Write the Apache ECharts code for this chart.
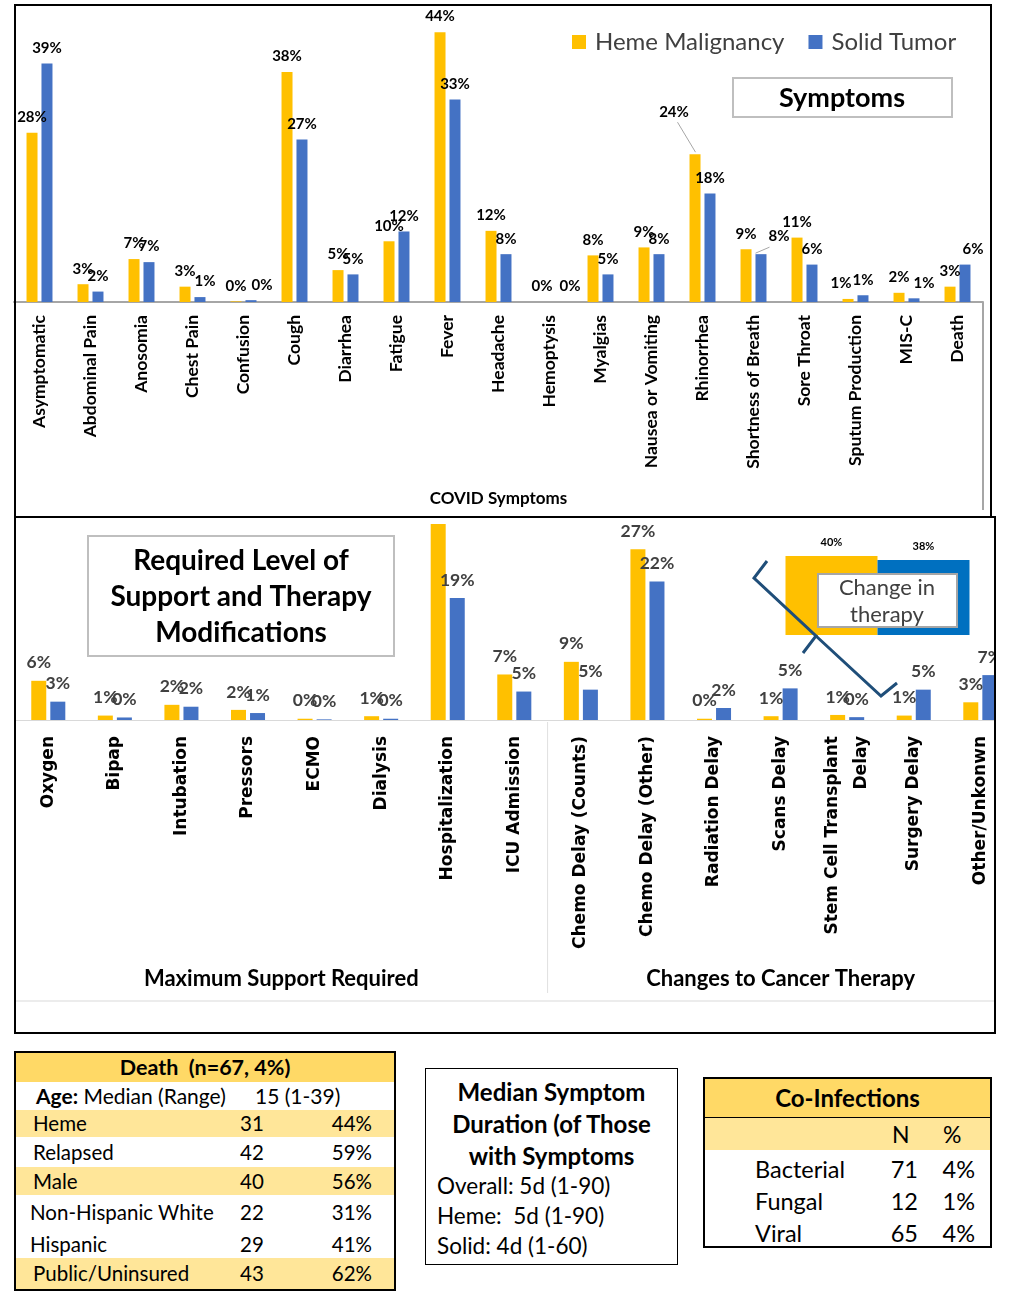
<!DOCTYPE html>
<html><head><meta charset="utf-8">
<script src="https://cdn.jsdelivr.net/npm/echarts/dist/echarts.min.js"></script>
<style>
body{margin:0;background:#fff;width:1012px;height:1309px;position:relative;overflow:hidden;font-family:Lato,sans-serif;color:#000;}
.abs{position:absolute;}
.frame{position:absolute;border:2px solid #000;box-sizing:border-box;pointer-events:none;z-index:5;}
.tbl{position:absolute;border:2px solid #000;box-sizing:border-box;background:#fff;}
.row{position:relative;width:100%;}
.row span{position:absolute;top:0;white-space:pre;}
.hdr{background:#FFD966;font-weight:bold;text-align:center;}
.band{background:#FFE699;}
</style></head><body>
<div id="topChart" class="abs" style="left:0;top:0;width:1012px;height:517px;"></div>
<div class="frame" style="left:14px;top:4px;width:978px;height:514px;"></div>
<div class="abs" style="left:0;top:516px;width:996px;height:518px;overflow:hidden;">
  <div id="midChart" style="position:absolute;left:0;top:0;width:1040px;height:518px;"></div>
</div>
<div class="frame" style="left:14px;top:516px;width:982px;height:518px;"></div>

<div id="deathTbl" class="tbl" style="left:14px;top:1051px;width:382px;height:240px;"></div>
<div id="medianBox" class="abs" style="left:425px;top:1068px;width:253px;height:197px;border:1px solid #000;box-sizing:border-box;"></div>
<div id="coTbl" class="tbl" style="left:703px;top:1077px;width:289px;height:171px;"></div>

<script>
// ---------- data ----------
const symptoms = ['Asymptomatic','Abdominal Pain','Anosomia','Chest Pain','Confusion','Cough','Diarrhea','Fatigue','Fever','Headache','Hemoptysis','Myalgias','Nausea or Vomiting','Rhinorrhea','Shortness of Breath','Sore Throat','Sputum Production','MIS-C','Death'];
const symptomHeme  = [27.6, 2.9, 7.0, 2.5, 0.1, 37.5, 5.2, 9.9, 44, 11.6, 0, 7.6, 8.9, 24.1, 8.6, 10.5, 0.5, 1.5, 2.5];
const symptomSolid = [38.9, 1.7, 6.5, 0.8, 0.3, 26.5, 4.5, 11.5, 33, 7.8, 0, 4.5, 7.8, 17.7, 7.8, 6.1, 1.1, 0.6, 6.1];

const supportCats = ['Oxygen','Bipap','Intubation','Pressors','ECMO','Dialysis','Hospitalization','ICU Admission','Chemo Delay (Counts)','Chemo Delay (Other)','Radiation Delay','Scans Delay','Stem Cell Transplant\nDelay','Surgery Delay','Other/Unkonwn'];
const supportHeme  = [6.2, 0.7, 2.4, 1.6, 0.2, 0.6, 34, 7.2, 9.2, 27, 0.2, 0.6, 0.8, 0.7, 2.8];
const supportSolid = [2.9, 0.4, 2.1, 1.1, 0.1, 0.2, 19.3, 4.5, 4.8, 21.9, 1.9, 5.0, 0.45, 4.8, 7.1];
const groupNames = ['Maximum Support Required','Changes to Cancer Therapy'];
const groupRanges = [[0,7],[8,14]];

const changeCats = ['Change in therapy'];
const changeHeme = [40];
const changeSolid = [38];

const seriesNames = ['Heme Malignancy','Solid Tumor'];

const deathTitle = 'Death  (n=67, 4%)';
const deathAge = ['Age:', ' Median (Range)', '15 (1-39)'];
const deathRows = ['Heme','Relapsed','Male','Non-Hispanic White','Hispanic','Public/Uninsured'];
const deathN = [31, 42, 40, 22, 29, 43];
const deathPct = ['44%','59%','56%','31%','41%','62%'];

const medianTitle = ['Median Symptom','Duration (of Those','with Symptoms'];
const medianLines = ['Overall: 5d (1-90)','Heme:  5d (1-90)','Solid: 4d (1-60)'];

const coTitle = 'Co-Infections';
const coRows = ['Bacterial','Fungal','Viral'];
const coN = [71, 12, 65];
const coPct = ['4%','1%','4%'];

// ---------- colours ----------
const YEL = '#FFC000', BLU = '#4472C4';
const pct = p => Math.round(p.value) + '%';

// ---------- top chart ----------
const topChart = echarts.init(document.getElementById('topChart'));
const topLabel = {show:true, position:'top', distance:8, formatter:pct, fontFamily:'Lato', fontWeight:'bold', fontSize:15, color:'#000'};
const specialTop = {heme:{13:[-21,-27], 16:[-7,0]}, solid:{3:[5,0], 4:[11,0], 10:[13,0], 14:[18,-3], 17:[10,0], 18:[8,0]}};
topChart.setOption({
  animation:false,
  grid:{left:14, right:29, top:26, bottom:215, outerBoundsMode:'none'},
  legend:{data:seriesNames, left:567, top:25, icon:'rect', itemWidth:14, itemHeight:14, itemGap:24,
    textStyle:{fontFamily:'Lato', fontSize:24, color:'#404040', padding:[0,0,0,4]}},
  xAxis:{type:'category', data:symptoms,
    axisLine:{lineStyle:{color:'#A6A6A6', width:2}}, axisTick:{show:false},
    axisLabel:{rotate:90, interval:0, margin:13, fontFamily:'Lato', fontWeight:'bold', fontSize:17.5, color:'#000'},
    name:'COVID Symptoms', nameLocation:'middle', nameGap:188,
    nameTextStyle:{fontFamily:'Lato', fontWeight:'bold', fontSize:17, color:'#000'}},
  yAxis:{type:'value', min:0, max:45, show:false, splitLine:{show:false}},
  series:[
    {name:seriesNames[0], type:'bar', barWidth:11, barGap:'36%', itemStyle:{color:YEL}, label:topLabel,
     data:symptomHeme.map((v,i)=> specialTop.heme[i] ? {value:v, label:{offset:specialTop.heme[i]}} : v)},
    {name:seriesNames[1], type:'bar', barWidth:11, barGap:'36%', itemStyle:{color:BLU}, label:topLabel,
     data:symptomSolid.map((v,i)=> specialTop.solid[i] ? {value:v, label:{offset:specialTop.solid[i]}} : v)}
  ]
});
(function(){
  const gi = {xAxisIndex:0, yAxisIndex:0};
  const base = topChart.convertToPixel(gi, [0, 0]);
  const pR = topChart.convertToPixel(gi, [13, symptomHeme[13]]);
  const pS = topChart.convertToPixel(gi, [14, symptomSolid[14]]);
  const lastX = topChart.convertToPixel(gi, [symptoms.length-1, 0])[0] + 25.5;
  topChart.setOption({graphic:[
    {type:'rect', shape:{x:733, y:78, width:219, height:39}, style:{fill:'#fff', stroke:'#BFBFBF', lineWidth:2}, z:10},
    {type:'text', x:842, y:98, style:{text:'Symptoms', textAlign:'center', textVerticalAlign:'middle', fontFamily:'Lato', fontWeight:'bold', fontSize:27, fill:'#000'}, z:11},
    {type:'line', shape:{x1:lastX, y1:base[1], x2:lastX, y2:510}, style:{stroke:'#A6A6A6', lineWidth:2}, z:10},
    {type:'line', shape:{x1:pR[0]-25, y1:pR[1]-32, x2:pR[0]-7, y2:pR[1]-2}, style:{stroke:'#A6A6A6', lineWidth:1}, z:10},
    {type:'line', shape:{x1:pS[0]+16, y1:pS[1]-7, x2:pS[0]+2, y2:pS[1]-1}, style:{stroke:'#A6A6A6', lineWidth:1}, z:10}
  ]});
})();

// ---------- middle chart ----------
const midChart = echarts.init(document.getElementById('midChart'));
const midLabel = {show:true, position:'top', distance:9, formatter:pct, fontFamily:'Lato', fontWeight:'bold', fontSize:17.5, color:'#404040'};
midChart.setOption({
  animation:false,
  grid:[
    {left:15, width:998.6, top:8, height:196, outerBoundsMode:'none'},
    {left:785, width:185, top:40, height:79, outerBoundsMode:'none'}
  ],
  xAxis:[
    {type:'category', gridIndex:0, data:supportCats,
     axisLine:{lineStyle:{color:'#D9D9D9', width:1}}, axisTick:{show:false},
     axisLabel:{rotate:90, interval:0, margin:16, fontFamily:'DejaVu Sans', fontWeight:'bold', fontSize:17, color:'#000', lineHeight:29}},
    {type:'category', gridIndex:1, data:changeCats, show:false}
  ],
  yAxis:[
    {type:'value', gridIndex:0, min:0, max:31, show:false, splitLine:{show:false}},
    {type:'value', gridIndex:1, min:0, max:40, show:false, splitLine:{show:false}}
  ],
  series:[
    {name:seriesNames[0], type:'bar', xAxisIndex:0, yAxisIndex:0, barWidth:15, barGap:'27%', itemStyle:{color:YEL}, label:midLabel,
     data:supportHeme.map((v,i)=> supportCats[i]==='Hospitalization' ? {value:v, label:{show:false}} : v)},
    {name:seriesNames[1], type:'bar', xAxisIndex:0, yAxisIndex:0, barWidth:15, barGap:'27%', itemStyle:{color:BLU}, label:midLabel, data:supportSolid},
    {name:seriesNames[0]+' (change)', type:'bar', xAxisIndex:1, yAxisIndex:1, barWidth:92, barGap:'0%', itemStyle:{color:YEL},
     label:{show:true, position:'top', distance:8, formatter:p=>p.value+'%', fontFamily:'Lato', fontWeight:'bold', fontSize:11, color:'#000'}, data:changeHeme},
    {name:seriesNames[1]+' (change)', type:'bar', xAxisIndex:1, yAxisIndex:1, barWidth:92, barGap:'0%', itemStyle:{color:'#0070C0'},
     label:{show:true, position:'top', distance:8, formatter:p=>p.value+'%', fontFamily:'Lato', fontWeight:'bold', fontSize:11, color:'#000'}, data:changeSolid}
  ]
});
(function(){
  const gi = {xAxisIndex:0, yAxisIndex:0};
  const px = i => midChart.convertToPixel(gi, [i, 0]);
  const base = px(0)[1];
  const sepX = (px(groupRanges[0][1])[0] + px(groupRanges[1][0])[0]) / 2;
  const g = [
    {type:'rect', shape:{x:88, y:20, width:306, height:120}, style:{fill:'#fff', stroke:'#BFBFBF', lineWidth:2}, z:10},
    {type:'text', x:241, y:81, style:{text:'Required Level of\nSupport and Therapy\nModifications', textAlign:'center', textVerticalAlign:'middle', lineHeight:36, fontFamily:'Lato', fontWeight:'bold', fontSize:28, fill:'#000'}, z:11},
    {type:'rect', shape:{x:818, y:58, width:139, height:53}, style:{fill:'#fff', stroke:'#A6A6A6', lineWidth:2}, z:10},
    {type:'text', x:887, y:85, style:{text:'Change in\ntherapy', textAlign:'center', textVerticalAlign:'middle', lineHeight:27, fontFamily:'Lato', fontSize:22, fill:'#404040'}, z:11},
    {type:'polyline', shape:{points:[[767,45],[754,62],[816,120],[803,137]]}, style:{stroke:'#1F4E79', lineWidth:3, fill:null}, z:12},
    {type:'polyline', shape:{points:[[816,120],[881,180],[897,167]]}, style:{stroke:'#1F4E79', lineWidth:3, fill:null}, z:12},
    {type:'line', shape:{x1:sepX, y1:base+2, x2:sepX, y2:477}, style:{stroke:'#E0E0E0', lineWidth:1}, z:10},
    {type:'line', shape:{x1:15, y1:485, x2:1000, y2:485}, style:{stroke:'#E6E6E6', lineWidth:1.5}, z:10}
  ];
  groupRanges.forEach((r, k) => {
    const cx = (px(r[0])[0] + px(r[1])[0]) / 2;
    g.push({type:'text', x:cx, y:463, style:{text:groupNames[k], textAlign:'center', textVerticalAlign:'middle', fontFamily:'Lato', fontWeight:'bold', fontSize:22, fill:'#000'}, z:11});
  });
  midChart.setOption({graphic:g});
})();

// ---------- bottom tables ----------
function mkRow(h, cls, cells){
  const r = document.createElement('div');
  r.className = 'row ' + (cls||'');
  r.style.height = h + 'px';
  r.style.lineHeight = h + 'px';
  cells.forEach(c => {
    const s = document.createElement('span');
    s.innerHTML = c.html || '';
    if (c.text !== undefined) s.textContent = c.text;
    if (c.left !== undefined) s.style.left = c.left + 'px';
    if (c.right !== undefined) s.style.right = c.right + 'px';
    if (c.center) { s.style.left = '0'; s.style.right = '0'; s.style.textAlign = 'center'; }
    s.style.fontSize = (c.size||20) + 'px';
    if (c.bold) s.style.fontWeight = 'bold';
    r.appendChild(s);
  });
  return r;
}
(function(){
  const t = document.getElementById('deathTbl');
  t.appendChild(mkRow(29, 'hdr', [{text:deathTitle, center:true, size:21.5, bold:true}]));
  const ageRow = mkRow(28, '', [{left:20, size:21, html:'<b>'+deathAge[0]+'</b>'+deathAge[1]}, {left:239, size:21, text:deathAge[2]}]);
  t.appendChild(ageRow);
  const hs = [27, 30, 28, 35, 28, 31];
  const bands = [true, false, true, false, false, true];
  const lefts = [17, 17, 17, 14, 14, 17];
  deathRows.forEach((name, i) => {
    t.appendChild(mkRow(hs[i], bands[i] ? 'band' : '', [
      {left:lefts[i], text:name, size:20.5},
      {left:224, text:String(deathN[i]), size:20.5},
      {right:22, text:deathPct[i], size:20.5}
    ]));
  });

  const m = document.getElementById('medianBox');
  medianTitle.forEach((s, i) => {
    const d = document.createElement('div');
    d.style.cssText = 'position:absolute;left:0;right:0;text-align:center;font-weight:bold;font-size:24px;line-height:32px;white-space:nowrap;top:' + (7 + i*32) + 'px;';
    d.textContent = s; m.appendChild(d);
  });
  medianLines.forEach((s, i) => {
    const d = document.createElement('div');
    d.style.cssText = 'position:absolute;left:11px;font-size:22.5px;line-height:30px;white-space:pre;top:' + (102 + i*30) + 'px;';
    d.textContent = s; m.appendChild(d);
  });

  const c = document.getElementById('coTbl');
  const h = mkRow(38, 'hdr', [{text:coTitle, center:true, size:24, bold:true}]);
  h.style.borderBottom = '1px solid #000';
  c.appendChild(h);
  c.appendChild(mkRow(32, 'band', [{left:187, text:'N', size:23}, {left:238, text:'%', size:23}]));
  c.appendChild(mkRow(3, '', []));
  coRows.forEach((name, i) => {
    c.appendChild(mkRow(32, '', [
      {left:50, text:name, size:23.5},
      {right:72, text:String(coN[i]), size:23.5},
      {right:15, text:coPct[i], size:23.5}
    ]));
  });
})();
</script>
</body></html>
